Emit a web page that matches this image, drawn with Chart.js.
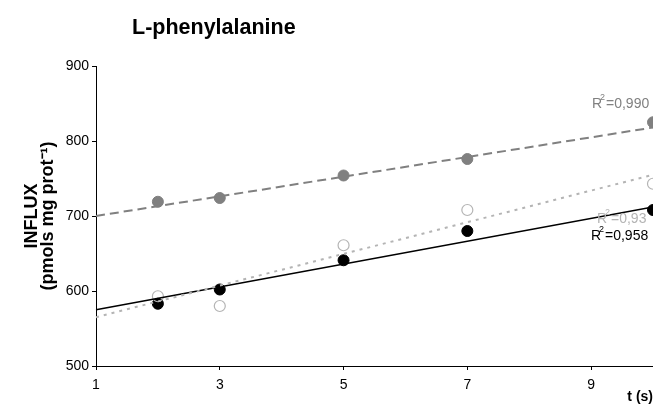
<!DOCTYPE html>
<html>
<head>
<meta charset="utf-8">
<script src="https://cdn.jsdelivr.net/npm/chart.js@4/dist/chart.umd.min.js"></script>
<style>
  body { margin: 0; background: #fff; }
  #wrap { width: 653px; height: 409px; }
</style>
</head>
<body>
<div id="wrap"><canvas id="influxChart"></canvas></div>
<script>
//Measured times (s)
const times = [2, 3, 5, 7, 10];
//Series
const grayFilled = [719, 724, 754, 776, 825];
const openCircle = [593, 580, 661, 708, 743];
const blackFilled = [583, 602, 641, 680, 708];
//Trend lines, values at t = 1 and t = 10
const trendTimes = [1, 10];
const grayTrend = [700, 818];
const openTrend = [565, 755];
const blackTrend = [575, 712];
//Ticks
const xTicks = [1, 3, 5, 7, 9];
const yTicks = [500, 600, 700, 800, 900];
//R squared labels
const r2Labels = ['0,990', '0,93', '0,958'];

const pts = (xs, ys) => xs.map((x, i) => ({ x: x, y: ys[i] }));

const gray = '#808080';
const light = '#b4b4b4';

Chart.defaults.font.family = `'Liberation Sans', Arial, sans-serif`;
Chart.defaults.color = '#000';

//Title and R2 text drawn on top
const textPlugin = {
  id: 'texts',
  afterDraw(chart) {
    const ctx = chart.ctx;
    ctx.save();
    ctx.textBaseline = 'middle';
    ctx.textAlign = 'left';
    ctx.fillStyle = '#000';
    ctx.font = `bold 21.5px 'Liberation Sans', Arial, sans-serif`;
    ctx.fillText('L-phenylalanine', 132, 28);

    const r2 = (txt, x, y, col) => {
      ctx.fillStyle = col;
      ctx.font = `14px 'Liberation Sans', Arial, sans-serif`;
      ctx.fillText('R', x, y);
      const w = ctx.measureText('R').width;
      ctx.font = `9px 'Liberation Sans', Arial, sans-serif`;
      ctx.fillText('2', x + w - 2, y - 6);
      ctx.font = `14px 'Liberation Sans', Arial, sans-serif`;
      ctx.fillText(' =' + txt, x + w, y);
    };
    r2(r2Labels[0], 592, 104, gray);
    r2(r2Labels[1], 597, 219, light);
    r2(r2Labels[2], 591, 236, '#000');
    ctx.restore();
  },
};

new Chart('influxChart', {
  type: 'scatter',
  data: {
    datasets: [
      {
        data: pts(trendTimes, grayTrend),
        showLine: true,
        borderColor: gray,
        borderWidth: 2,
        borderDash: [9, 5],
        pointRadius: 0,
        clip: false,
      },
      {
        data: pts(trendTimes, openTrend),
        showLine: true,
        borderColor: light,
        borderWidth: 2,
        borderDash: [3, 5],
        pointRadius: 0,
        clip: false,
      },
      {
        data: pts(trendTimes, blackTrend),
        showLine: true,
        borderColor: '#000',
        borderWidth: 1.5,
        pointRadius: 0,
        clip: false,
      },
      {
        data: pts(times, grayFilled),
        backgroundColor: gray,
        borderColor: gray,
        pointRadius: 5.5,
        clip: false,
      },
      {
        data: pts(times, openCircle),
        backgroundColor: 'rgba(255,255,255,0)',
        borderColor: light,
        borderWidth: 1.2,
        pointRadius: 5.5,
        clip: false,
      },
      {
        data: pts(times, blackFilled),
        backgroundColor: '#000',
        borderColor: '#000',
        pointRadius: 5.5,
        clip: false,
      },
    ],
  },
  options: {
    responsive: true,
    maintainAspectRatio: false,
    animation: false,
    layout: { autoPadding: false, padding: { top: 66, left: 0, right: 0, bottom: 0 } },
    plugins: {
      legend: { display: false },
      tooltip: { enabled: false },
    },
    scales: {
      x: {
        type: 'linear',
        min: 1,
        max: 10,
        afterBuildTicks: (axis) => {
          axis.ticks = xTicks.map((v) => ({ value: v }));
        },
        afterFit: (axis) => {
          axis.height = 43;
        },
        ticks: { font: { size: 14 }, padding: 7, maxRotation: 0 },
        grid: { drawOnChartArea: false, drawTicks: true, tickLength: 4, color: '#000' },
        border: { color: '#000', width: 1 },
        title: {
          display: true,
          text: 't (s)',
          align: 'end',
          font: { size: 14, weight: 'bold' },
          padding: { top: 0, bottom: 3 },
        },
      },
      y: {
        min: 500,
        max: 900,
        afterBuildTicks: (axis) => {
          axis.ticks = yTicks.map((v) => ({ value: v }));
        },
        afterFit: (axis) => {
          axis.width = 96;
        },
        ticks: { font: { size: 14 }, padding: 3 },
        grid: { drawOnChartArea: false, drawTicks: true, tickLength: 4, color: '#000' },
        border: { color: '#000', width: 1 },
        title: {
          display: true,
          text: ['INFLUX', '(pmols mg prot\u207B\u00B9)'],
          font: { size: 18, weight: 'bold', lineHeight: 0.9 },
          padding: { top: 24, bottom: 0 },
        },
      },
    },
  },
  plugins: [textPlugin],
});
</script>
</body>
</html>
